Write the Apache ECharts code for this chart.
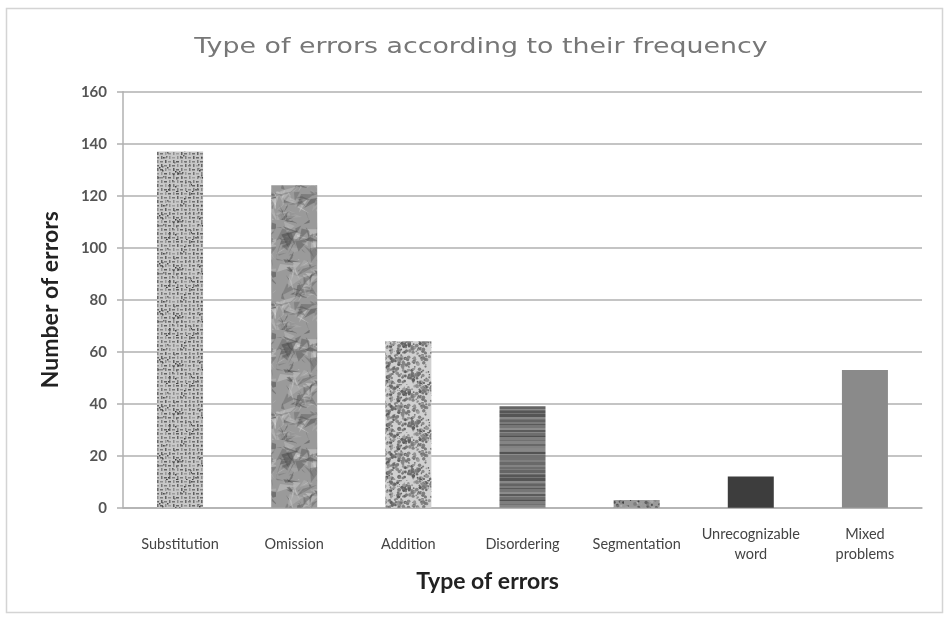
<!DOCTYPE html>
<html>
<head>
<meta charset="utf-8">
<script src="https://cdn.jsdelivr.net/npm/echarts@6/dist/echarts.min.js"></script>
<style>
  html, body { margin: 0; padding: 0; background: #ffffff; }
  #chart { width: 949px; height: 621px; }
</style>
</head>
<body>
<div id="chart"></div>
<script>
// Error categories and how often each one occurred
const categories = ['Substitution', 'Omission', 'Addition', 'Disordering', 'Segmentation', 'Unrecognizable\nword', 'Mixed\nproblems'];
const errorCounts = [137, 124, 64, 39, 3, 12, 53];
const yTicks = [0, 20, 40, 60, 80, 100, 120, 140, 160];
const chartTitle = 'Type of errors according to their frequency';

// Small deterministic generator so the fill textures look the same on every load
function makeRand(seed) {
  let s = seed >>> 0;
  return function () {
    s = (Math.imul(s, 1664525) + 1013904223) >>> 0;
    return s / 4294967296;
  };
}
function grey(v) { v = Math.max(0, Math.min(255, Math.round(v))); return 'rgb(' + v + ',' + v + ',' + v + ')'; }
function canvas(w, h) { const c = document.createElement('canvas'); c.width = w; c.height = h; return c; }

// Woven canvas look
function wovenTexture() {
  const c = canvas(48, 48), g = c.getContext('2d'), r = makeRand(11);
  g.fillStyle = '#c8c8c8'; g.fillRect(0, 0, 48, 48);
  for (let y = 0; y < 48; y += 4) {
    for (let x = 0; x < 48; x += 4) {
      g.fillStyle = grey(90 + r() * 70);
      if (((x + y) / 4) % 2 === 0) g.fillRect(x, y + 1, 3, 1.5);
      else g.fillRect(x + 1, y, 1.5, 3);
    }
  }
  for (let i = 0; i < 50; i++) { g.fillStyle = grey(60 + r() * 60); g.fillRect(Math.floor(r() * 48), Math.floor(r() * 48), 1.5, 1.5); }
  return c;
}
// Crumpled paper look
function crumpledTexture() {
  const c = canvas(46, 110), g = c.getContext('2d'), r = makeRand(29);
  g.fillStyle = '#9a9a9a'; g.fillRect(0, 0, 46, 110);
  for (let i = 0; i < 160; i++) {
    const x = r() * 46, y = r() * 110;
    g.beginPath();
    g.moveTo(x, y);
    g.lineTo(x + (r() - 0.3) * 24, y + (r() - 0.5) * 14);
    g.lineTo(x + (r() - 0.5) * 14, y + (r() - 0.2) * 18);
    g.closePath();
    g.globalAlpha = 0.45;
    g.fillStyle = grey(r() < 0.5 ? 60 + r() * 50 : 170 + r() * 60);
    g.fill();
  }
  g.globalAlpha = 1;
  return c;
}
// Granite speckle look
function speckleTexture(seed, base, dark, light, count) {
  const c = canvas(48, 48), g = c.getContext('2d'), r = makeRand(seed);
  g.fillStyle = base; g.fillRect(0, 0, 48, 48);
  for (let i = 0; i < count; i++) {
    g.fillStyle = grey(dark + r() * (light - dark));
    g.beginPath();
    g.arc(r() * 48, r() * 48, 0.6 + r() * 1.3, 0, Math.PI * 2);
    g.fill();
  }
  return c;
}
// Horizontal grain look
function stripeTexture() {
  const c = canvas(8, 64), g = c.getContext('2d'), r = makeRand(7);
  let y = 0;
  while (y < 64) {
    const h = 1 + Math.floor(r() * 3);
    g.fillStyle = grey(80 + r() * 60);
    g.fillRect(0, y, 8, h);
    y += h;
  }
  return c;
}

const barFills = [
  { image: wovenTexture(), repeat: 'repeat' },
  { image: crumpledTexture(), repeat: 'repeat' },
  { image: speckleTexture(3, '#d0d0d0', 90, 160, 320), repeat: 'repeat' },
  { image: stripeTexture(), repeat: 'repeat' },
  { image: speckleTexture(5, '#9a9a9a', 60, 200, 200), repeat: 'repeat' },
  '#3d3d3d',
  '#8a8a8a'
];

const chart = echarts.init(document.getElementById('chart'), null, { renderer: 'canvas' });

chart.setOption({
  animation: false,
  backgroundColor: '#ffffff',
  graphic: [
    {
      type: 'rect',
      shape: { x: 6.5, y: 8.5, width: 936, height: 604 },
      style: { fill: 'none', stroke: '#d4d4d4', lineWidth: 1.5 },
      silent: true
    },
    {
      // wide, light heading centred over the plot
      type: 'text',
      x: 481,
      y: 47,
      scaleX: 1.22,
      style: {
        text: chartTitle,
        fontFamily: 'DejaVu Sans',
        fontSize: 22,
        fill: '#777777',
        align: 'center',
        verticalAlign: 'middle'
      },
      silent: true
    }
  ],
  grid: { left: 123, right: 27, top: 91.7, bottom: 113.3 },
  xAxis: {
    type: 'category',
    data: categories,
    name: 'Type of errors',
    nameLocation: 'middle',
    nameGap: 73,
    nameTextStyle: { fontFamily: 'Lato', fontWeight: 'bold', fontSize: 23, color: '#222', verticalAlign: 'middle', padding: [0, 70, 0, 0] },
    axisLine: { show: true, lineStyle: { color: '#b0b0b0', width: 1.5 } },
    axisTick: { show: false },
    axisLabel: { margin: 37, fontFamily: 'Lato', fontSize: 14.5, color: '#444', lineHeight: 20, verticalAlign: 'middle', interval: 0 }
  },
  yAxis: {
    type: 'value',
    min: 0,
    max: yTicks[yTicks.length - 1],
    interval: yTicks[1] - yTicks[0],
    name: 'Number of errors',
    nameLocation: 'middle',
    nameGap: 61,
    nameRotate: 90,
    nameTextStyle: { fontFamily: 'Lato', fontWeight: 'bold', fontSize: 23, color: '#222' },
    axisLine: { show: true, lineStyle: { color: '#b0b0b0', width: 1.5 } },
    axisTick: { show: true, inside: false, length: 6, lineStyle: { color: '#b0b0b0', width: 1.5 } },
    axisLabel: { margin: 16, fontFamily: 'Lato', fontWeight: 'bold', fontSize: 15, color: '#555' },
    splitLine: { show: true, lineStyle: { color: '#b0b0b0', width: 1.5 } }
  },
  series: [{
    type: 'bar',
    barWidth: 46,
    data: errorCounts.map((v, i) => ({ value: v, itemStyle: { color: barFills[i] } }))
  }]
});
</script>
</body>
</html>
